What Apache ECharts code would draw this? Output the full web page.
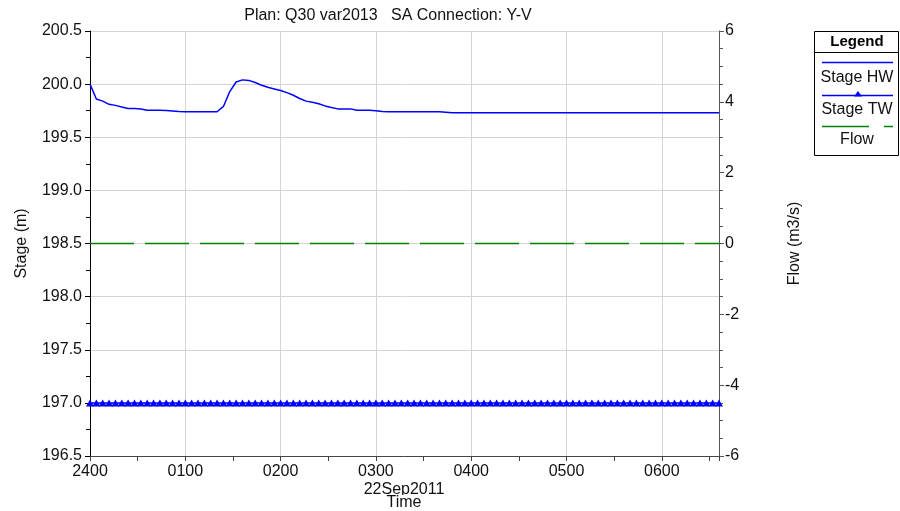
<!DOCTYPE html>
<html>
<head>
<meta charset="utf-8">
<script src="https://cdn.jsdelivr.net/npm/echarts@6/dist/echarts.min.js"></script>
<style>
html,body{margin:0;padding:0;background:#fff;}
#chart{width:900px;height:511px;}
</style>
</head>
<body>
<div id="chart"></div>
<script>
// Time in minutes after 2400 (22Sep2011)
const timeMinutes = [0,4,8,12,16,20,24,28,32,36,40,44,48,52,56,60,64,68,72,76,80,84,88,92,96,100,104,108,112,116,120,124,128,132,136,140,144,148,152,156,160,164,168,172,176,180,184,188,192,196,200,204,208,212,216,220,224,228,232,236,240,244,248,252,256,260,264,268,272,276,280,284,288,292,296,300,304,308,312,316,320,324,328,332,336,340,344,348,352,356,360,364,368,372,376,380,384,388,392,396];

const stageHW = [200.00,199.86,199.84,199.81,199.80,199.785,199.77,199.77,199.765,199.755,199.755,199.755,199.752,199.748,199.742,199.74,
199.74,199.74,199.74,199.74,199.74,
199.79,199.93,200.02,200.04,200.035,200.015,199.99,199.97,199.955,199.94,199.92,199.895,199.865,199.84,199.83,199.815,199.795,199.78,199.767,199.767,199.767,199.755,199.755,199.755,199.75,199.742,
199.74,199.74,199.74,199.74,199.74,199.74,199.74,199.74,199.74,
199.735,
199.73,199.73,199.73,199.73,199.73,199.73,199.73,199.73,199.73,199.73,199.73,199.73,199.73,199.73,199.73,199.73,199.73,199.73,199.73,199.73,199.73,199.73,199.73,199.73,199.73,199.73,199.73,199.73,199.73,199.73,199.73,199.73,199.73,199.73,199.73,199.73,199.73,199.73,199.73,199.73,199.73,199.73,199.73];

const stageTW = [197.0,197.0,197.0,197.0,197.0,197.0,197.0,197.0,197.0,197.0,197.0,197.0,197.0,197.0,197.0,197.0,197.0,197.0,197.0,197.0,197.0,197.0,197.0,197.0,197.0,197.0,197.0,197.0,197.0,197.0,197.0,197.0,197.0,197.0,197.0,197.0,197.0,197.0,197.0,197.0,197.0,197.0,197.0,197.0,197.0,197.0,197.0,197.0,197.0,197.0,197.0,197.0,197.0,197.0,197.0,197.0,197.0,197.0,197.0,197.0,197.0,197.0,197.0,197.0,197.0,197.0,197.0,197.0,197.0,197.0,197.0,197.0,197.0,197.0,197.0,197.0,197.0,197.0,197.0,197.0,197.0,197.0,197.0,197.0,197.0,197.0,197.0,197.0,197.0,197.0,197.0,197.0,197.0,197.0,197.0,197.0,197.0,197.0,197.0,197.0];

const flow = [0,0,0,0,0,0,0,0,0,0,0,0,0,0,0,0,0,0,0,0,0,0,0,0,0,0,0,0,0,0,0,0,0,0,0,0,0,0,0,0,0,0,0,0,0,0,0,0,0,0,0,0,0,0,0,0,0,0,0,0,0,0,0,0,0,0,0,0,0,0,0,0,0,0,0,0,0,0,0,0,0,0,0,0,0,0,0,0,0,0,0,0,0,0,0,0,0,0,0,0];

const hourLabels = {0:'2400',60:'0100',120:'0200',180:'0300',240:'0400',300:'0500',360:'0600'};
const titleText = 'Plan: Q30 var2013   SA Connection: Y-V';
const dateText = '22Sep2011';
const seriesNames = ['Stage HW','Stage TW','Flow'];

const FONT = 'Liberation Sans, Arial, sans-serif';
const GREEN = '#008000';
const BLUE = '#0000ff';
const chart = echarts.init(document.getElementById('chart'), null, {renderer:'canvas'});

function pairs(ys){ return timeMinutes.map((t,i)=>[t, ys[i]]); }

const option = {
  animation:false,
  backgroundColor:'#fff',
  textStyle:{fontFamily:FONT},
  grid:{left:90, right:181, top:31, bottom:55, containLabel:false},
  xAxis:[{
    type:'value', min:0, max:396, interval:30, position:'bottom',
    axisLine:{show:true, onZero:false, lineStyle:{color:'#444', width:1}},
    axisTick:{show:true, length:5, lineStyle:{color:'#444'}},
    axisLabel:{show:true, margin:8, fontSize:16, color:'#111', fontFamily:FONT, hideOverlap:false,
      formatter:v=> (hourLabels[v]!==undefined ? hourLabels[v] : '')},
    splitLine:{show:false}
  },{
    type:'value', min:0, max:396, interval:60, position:'top',
    axisLine:{show:false, onZero:false}, axisTick:{show:false}, axisLabel:{show:false},
    splitLine:{show:true, lineStyle:{color:'#d4d4d4', width:1}}
  }],
  yAxis:[{
    type:'value', min:196.5, max:200.5, interval:0.5, position:'left',
    name:'Stage (m)', nameLocation:'middle', nameGap:60, nameRotate:90,
    nameTextStyle:{fontSize:16, color:'#111', fontFamily:FONT},
    axisLine:{show:true, onZero:false, lineStyle:{color:'#000', width:1}},
    axisTick:{show:true, length:5, lineStyle:{color:'#000'}},
    minorTick:{show:true, splitNumber:2, length:4, lineStyle:{color:'#000'}},
    axisLabel:{margin:8, fontSize:16, color:'#111', fontFamily:FONT, formatter:v=>v.toFixed(1)},
    splitLine:{show:true, lineStyle:{color:'#d4d4d4', width:1}}
  },{
    type:'value', min:-6, max:6, interval:2, position:'right',
    name:'Flow (m3/s)', nameLocation:'middle', nameGap:68, nameRotate:90,
    nameTextStyle:{fontSize:16, color:'#111', fontFamily:FONT},
    axisLine:{show:true, onZero:false, lineStyle:{color:'#555', width:1}},
    axisTick:{show:true, length:5, lineStyle:{color:'#555'}},
    minorTick:{show:true, splitNumber:4, length:4, lineStyle:{color:'#555'}},
    axisLabel:{margin:6, fontSize:16, color:'#111', fontFamily:FONT},
    splitLine:{show:false}
  }],
  series:[{
    name:seriesNames[2], type:'line', xAxisIndex:0, yAxisIndex:1, data:pairs(flow),
    showSymbol:false, symbol:'none', color:GREEN,
    lineStyle:{color:GREEN, width:1.5, type:[44,11]}, z:5
  },{
    name:seriesNames[0], type:'line', xAxisIndex:0, yAxisIndex:0, data:pairs(stageHW),
    showSymbol:false, symbol:'none', color:BLUE, lineStyle:{color:BLUE, width:1.5}, z:6
  },{
    name:seriesNames[1], type:'line', xAxisIndex:0, yAxisIndex:0, data:pairs(stageTW),
    symbol:'triangle', symbolSize:[8,7], showAllSymbol:true, color:BLUE,
    itemStyle:{color:BLUE, borderWidth:0}, lineStyle:{color:BLUE, width:1.5}, z:6
  }],
  graphic:[
    {type:'text', x:388, y:16, style:{text:titleText, fill:'#111', font:'16px '+FONT, align:'center', verticalAlign:'middle'}},
    {type:'text', x:404, y:490, style:{text:dateText, fill:'#111', font:'16px '+FONT, align:'center', verticalAlign:'middle'}},
    {type:'text', x:404, y:503, style:{text:'Time', fill:'#111', font:'16px '+FONT, align:'center', verticalAlign:'middle', backgroundColor:'#fff'}},
    // legend box
    {type:'rect', shape:{x:814.5, y:31.5, width:84, height:124}, style:{fill:'#fff', stroke:'#000', lineWidth:1}},
    {type:'line', shape:{x1:814.5, y1:52.5, x2:898.5, y2:52.5}, style:{stroke:'#000', lineWidth:1}},
    {type:'text', x:857, y:42, style:{text:'Legend', fill:'#000', font:'bold 15px '+FONT, align:'center', verticalAlign:'middle'}},
    {type:'line', shape:{x1:822, y1:62.5, x2:893, y2:62.5}, style:{stroke:BLUE, lineWidth:1.5}},
    {type:'text', x:857, y:78, style:{text:seriesNames[0], fill:'#111', font:'16px '+FONT, align:'center', verticalAlign:'middle'}},
    {type:'line', shape:{x1:822, y1:95.5, x2:893, y2:95.5}, style:{stroke:BLUE, lineWidth:1.5}},
    {type:'polygon', shape:{points:[[858,91],[862,96.5],[854,96.5]]}, style:{fill:BLUE}},
    {type:'text', x:857, y:110, style:{text:seriesNames[1], fill:'#111', font:'16px '+FONT, align:'center', verticalAlign:'middle'}},
    {type:'line', shape:{x1:822, y1:126.5, x2:869, y2:126.5}, style:{stroke:GREEN, lineWidth:1.5}},
    {type:'line', shape:{x1:884, y1:126.5, x2:893, y2:126.5}, style:{stroke:GREEN, lineWidth:1.5}},
    {type:'text', x:857, y:140, style:{text:seriesNames[2], fill:'#111', font:'16px '+FONT, align:'center', verticalAlign:'middle'}}
  ]
};
chart.setOption(option);
</script>
</body>
</html>
